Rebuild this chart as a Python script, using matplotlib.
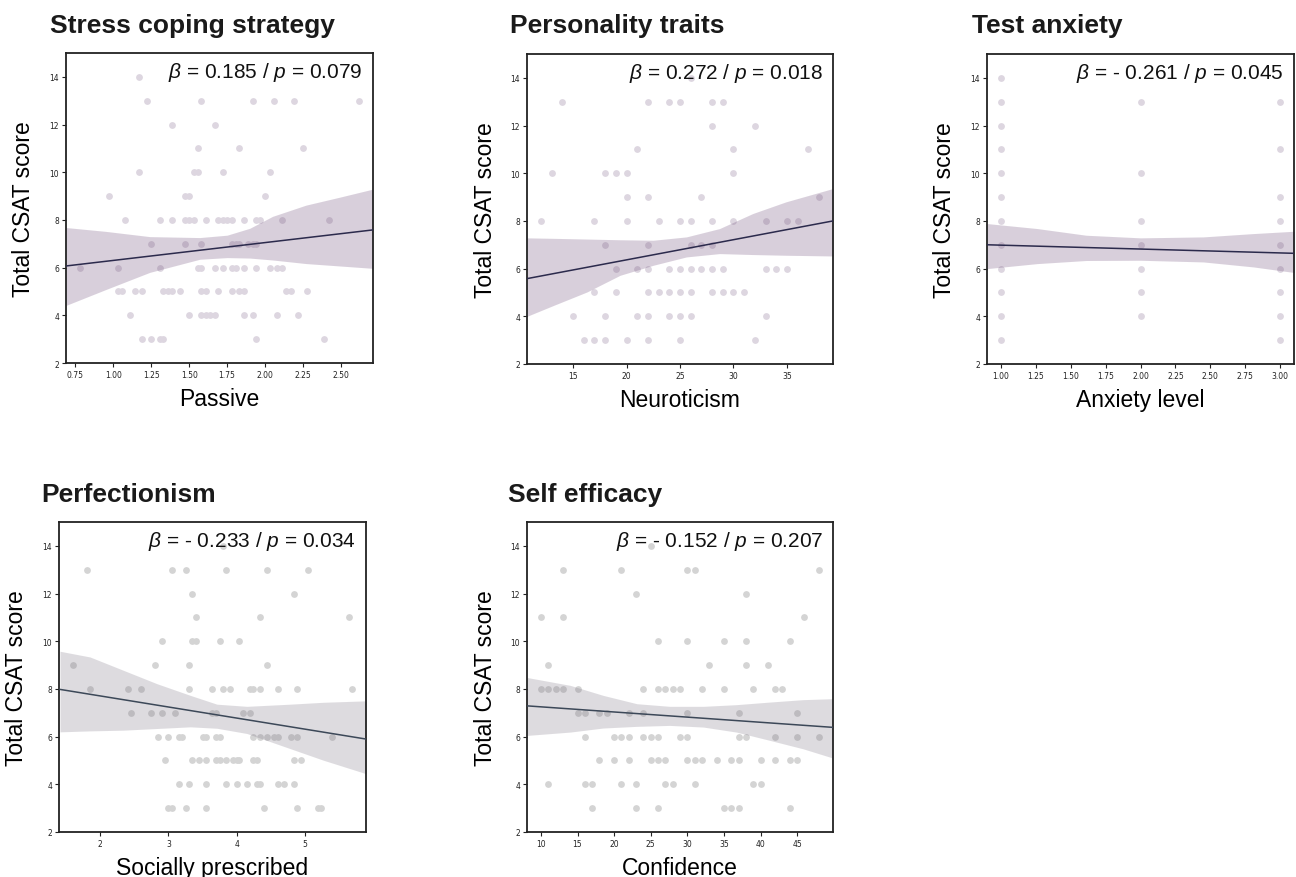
import matplotlib
matplotlib.use("Agg")
import matplotlib.pyplot as plt

plt.rcParams['mathtext.fontset'] = 'custom'
plt.rcParams['mathtext.rm'] = 'Liberation Sans'
plt.rcParams['mathtext.it'] = 'Liberation Sans:italic'

W, H = 1296, 878
TXT = 'Liberation Sans'

# ---- Stress coping strategy: Passive ----
passive_x = [1.17,
             1.22, 1.58, 1.92, 2.06, 2.19, 2.62,
             1.39, 1.67,
             1.56, 1.83, 2.25,
             1.17, 1.53, 1.56, 1.72, 2.03,
             0.97, 1.47, 1.50, 2.00,
             1.08, 1.31, 1.39, 1.47, 1.50, 1.53, 1.61, 1.69, 1.72, 1.75, 1.78, 1.86, 1.94, 1.97, 2.11, 2.42,
             1.25, 1.47, 1.58, 1.78, 1.81, 1.83, 1.89, 1.92, 1.94,
             0.78, 1.03, 1.31, 1.56, 1.58, 1.67, 1.72, 1.78, 1.81, 1.86, 1.94, 2.03, 2.08, 2.11,
             1.03, 1.06, 1.14, 1.19, 1.33, 1.36, 1.39, 1.44, 1.58, 1.61, 1.69, 1.78, 1.83, 1.86, 2.14, 2.17, 2.28,
             1.11, 1.50, 1.58, 1.61, 1.64, 1.67, 1.86, 1.92, 2.08, 2.22,
             1.19, 1.25, 1.31, 1.33, 1.94, 2.39]
passive_y = [14,
             13, 13, 13, 13, 13, 13,
             12, 12,
             11, 11, 11,
             10, 10, 10, 10, 10,
             9, 9, 9, 9,
             8, 8, 8, 8, 8, 8, 8, 8, 8, 8, 8, 8, 8, 8, 8, 8,
             7, 7, 7, 7, 7, 7, 7, 7, 7,
             6, 6, 6, 6, 6, 6, 6, 6, 6, 6, 6, 6, 6, 6,
             5, 5, 5, 5, 5, 5, 5, 5, 5, 5, 5, 5, 5, 5, 5, 5, 5,
             4, 4, 4, 4, 4, 4, 4, 4, 4, 4,
             3, 3, 3, 3, 3, 3]
passive_band_x = [0.69, 0.95, 1.24, 1.57, 1.75, 1.90, 2.05, 2.27, 2.49, 2.71]
passive_band_hi = [7.68, 7.52, 7.30, 7.26, 7.36, 7.65, 8.15, 8.62, 8.95, 9.29]
passive_band_lo = [4.42, 5.08, 5.80, 6.35, 6.42, 6.40, 6.32, 6.17, 6.07, 5.97]
passive_fit = [6.07, 7.58]

# ---- Personality traits: Neuroticism ----
neuro_x = [26,
           14, 22, 24, 25, 28, 29,
           28, 32,
           21, 30, 37,
           13, 18, 19, 20, 30,
           20, 22, 27, 38,
           12, 17, 20, 23, 25, 26, 28, 30, 33, 35, 36,
           18, 22, 26, 27, 28,
           19, 21, 22, 24, 25, 26, 27, 28, 29, 33, 34, 35,
           17, 19, 22, 23, 24, 25, 26, 28, 29, 30, 31,
           15, 18, 21, 22, 24, 25, 26, 33,
           16, 17, 18, 20, 22, 25, 32]
neuro_y = [14,
           13, 13, 13, 13, 13, 13,
           12, 12,
           11, 11, 11,
           10, 10, 10, 10, 10,
           9, 9, 9, 9,
           8, 8, 8, 8, 8, 8, 8, 8, 8, 8, 8,
           7, 7, 7, 7, 7,
           6, 6, 6, 6, 6, 6, 6, 6, 6, 6, 6, 6,
           5, 5, 5, 5, 5, 5, 5, 5, 5, 5, 5,
           4, 4, 4, 4, 4, 4, 4, 4,
           3, 3, 3, 3, 3, 3, 3]
neuro_band_x = [10.7, 13.2, 16.3, 19.4, 22.5, 25.6, 28.7, 31.8, 34.9, 39.3]
neuro_band_hi = [7.29, 7.27, 7.24, 7.21, 7.19, 7.33, 7.68, 8.31, 8.80, 9.36]
neuro_band_lo = [4.00, 4.46, 5.02, 5.72, 6.14, 6.49, 6.63, 6.59, 6.56, 6.53]
neuro_fit = [5.58, 8.00]

# ---- Test anxiety: Anxiety level ----
anx_x = [1, 1, 1, 1, 1, 1, 1, 1, 1, 1, 1, 1,
         2, 2, 2, 2, 2, 2, 2,
         3, 3, 3, 3, 3, 3, 3, 3, 3]
anx_y = [14, 13, 12, 11, 10, 9, 8, 7, 6, 5, 4, 3,
         13, 10, 8, 7, 6, 5, 4,
         13, 11, 9, 8, 7, 6, 5, 4, 3]
anx_band_x = [0.90, 1.26, 1.61, 2.00, 2.45, 2.81, 3.11]
anx_band_hi = [7.89, 7.68, 7.40, 7.29, 7.33, 7.47, 7.57]
anx_band_lo = [6.00, 6.21, 6.34, 6.35, 6.28, 6.07, 5.83]
anx_fit = [7.00, 6.64]

# ---- Perfectionism: Socially prescribed ----
social_x = [3.80,
            1.80, 3.05, 3.25, 3.85, 4.44, 5.04,
            3.35, 4.84,
            3.40, 4.34, 5.64,
            2.90, 3.35, 3.40, 3.75, 4.04,
            1.60, 2.80, 3.30, 4.44,
            1.85, 2.40, 2.60, 3.30, 3.64, 3.80, 3.90, 4.20, 4.24, 4.34, 4.60, 4.89, 5.69,
            2.45, 2.75, 2.90, 3.10, 3.64, 3.70, 4.09, 4.20,
            2.85, 3.00, 3.15, 3.20, 3.50, 3.55, 3.70, 3.75, 4.24, 4.34, 4.44, 4.55, 4.60, 4.80, 4.89, 5.39,
            2.95, 3.35, 3.45, 3.55, 3.70, 3.75, 3.85, 3.95, 4.00, 4.04, 4.24, 4.29, 4.84, 4.94,
            3.15, 3.30, 3.55, 3.85, 4.00, 4.15, 4.29, 4.34, 4.60, 4.69, 4.84,
            3.00, 3.05, 3.25, 3.55, 4.40, 4.89, 5.19, 5.24]
social_y = [14,
            13, 13, 13, 13, 13, 13,
            12, 12,
            11, 11, 11,
            10, 10, 10, 10, 10,
            9, 9, 9, 9,
            8, 8, 8, 8, 8, 8, 8, 8, 8, 8, 8, 8, 8,
            7, 7, 7, 7, 7, 7, 7, 7,
            6, 6, 6, 6, 6, 6, 6, 6, 6, 6, 6, 6, 6, 6, 6, 6,
            5, 5, 5, 5, 5, 5, 5, 5, 5, 5, 5, 5, 5, 5,
            4, 4, 4, 4, 4, 4, 4, 4, 4, 4, 4,
            3, 3, 3, 3, 3, 3, 3, 3]
social_band_x = [1.41, 1.85, 2.34, 2.83, 3.32, 3.71, 4.15, 4.78, 5.27, 5.89]
social_band_hi = [9.58, 9.34, 8.78, 8.22, 7.73, 7.36, 7.27, 7.36, 7.44, 7.50]
social_band_lo = [6.20, 6.24, 6.27, 6.34, 6.41, 6.35, 6.13, 5.50, 5.01, 4.45]
social_fit = [7.98, 5.90]

# ---- Self efficacy: Confidence ----
conf_x = [25,
          13, 21, 30, 31, 48,
          23, 38,
          10, 13, 46,
          26, 30, 35, 38, 44,
          11, 33, 38, 41,
          10, 11, 12, 13, 15, 24, 26, 27, 28, 29, 32, 35, 39, 42, 43,
          15, 16, 18, 19, 22, 24, 30, 37, 45,
          16, 20, 21, 22, 24, 25, 26, 29, 30, 37, 38, 42, 45, 48,
          18, 20, 22, 25, 26, 27, 30, 31, 32, 34, 36, 37, 40, 42, 44, 45,
          11, 16, 17, 21, 23, 27, 28, 31, 39, 40,
          17, 23, 26, 35, 36, 37, 44]
conf_y = [14,
          13, 13, 13, 13, 13,
          12, 12,
          11, 11, 11,
          10, 10, 10, 10, 10,
          9, 9, 9, 9,
          8, 8, 8, 8, 8, 8, 8, 8, 8, 8, 8, 8, 8, 8, 8,
          7, 7, 7, 7, 7, 7, 7, 7, 7,
          6, 6, 6, 6, 6, 6, 6, 6, 6, 6, 6, 6, 6, 6,
          5, 5, 5, 5, 5, 5, 5, 5, 5, 5, 5, 5, 5, 5, 5, 5,
          4, 4, 4, 4, 4, 4, 4, 4, 4, 4,
          3, 3, 3, 3, 3, 3, 3]
conf_band_x = [8.1, 14.0, 18.5, 23.1, 27.6, 32.2, 36.7, 41.3, 45.8, 49.8]
conf_band_hi = [8.48, 8.15, 7.73, 7.38, 7.27, 7.27, 7.34, 7.45, 7.55, 7.59]
conf_band_lo = [6.05, 6.19, 6.36, 6.43, 6.47, 6.40, 6.19, 5.84, 5.49, 5.11]
conf_fit = [7.29, 6.39]

titles = ['Stress coping strategy', 'Personality traits', 'Test anxiety',
          'Perfectionism', 'Self efficacy']
xlabels = ['Passive', 'Neuroticism', 'Anxiety level',
           'Socially prescribed', 'Confidence']
stats = [r'$\beta$ = 0.185 / $p$ = 0.079', r'$\beta$ = 0.272 / $p$ = 0.018',
         r'$\beta$ = - 0.261 / $p$ = 0.045', r'$\beta$ = - 0.233 / $p$ = 0.034',
         r'$\beta$ = - 0.152 / $p$ = 0.207']
xticks = [None, None, [1.0, 1.25, 1.5, 1.75, 2.0, 2.25, 2.5, 2.75, 3.0],
          [2, 3, 4, 5], None]

# purple-ish palette on the top row, grey on the bottom row
top_style = dict(dot='#ddd6e0', band='#674373', line='#2b2a4c')
bot_style = dict(dot='#d4d4d4', band='#7b7383', line='#3c4858')

panels = [
    (passive_x, passive_y, passive_band_x, passive_band_lo, passive_band_hi, passive_fit, top_style),
    (neuro_x, neuro_y, neuro_band_x, neuro_band_lo, neuro_band_hi, neuro_fit, top_style),
    (anx_x, anx_y, anx_band_x, anx_band_lo, anx_band_hi, anx_fit, top_style),
    (social_x, social_y, social_band_x, social_band_lo, social_band_hi, social_fit, bot_style),
    (conf_x, conf_y, conf_band_x, conf_band_lo, conf_band_hi, conf_fit, bot_style),
]

# axes boxes in pixels: left, top, width, height
boxes = [(66, 54, 307, 310), (527, 55, 306, 310), (987, 55, 307, 310),
         (59, 523, 307, 310), (527, 523, 306, 310)]
title_pos = [(50, 33), (510, 33), (972, 33), (41, 502), (508, 502)]

fig = plt.figure(figsize=(W / 100, H / 100), dpi=100)

for i, (xs, ys, bx, blo, bhi, fit, st) in enumerate(panels):
    l, t, w, h = boxes[i]
    ax = fig.add_axes([l / W, 1 - (t + h) / H, w / W, h / H])
    ax.scatter(xs, ys, s=24, color=st['dot'], linewidths=0, zorder=1)
    ax.fill_between(bx, blo, bhi, color=st['band'], alpha=0.25, linewidth=0, zorder=2)
    ax.plot([bx[0], bx[-1]], fit, color=st['line'], lw=1.1, zorder=3)

    span = max(xs) - min(xs)
    ax.set_xlim(min(xs) - 0.05 * span, max(xs) + 0.05 * span)
    ax.set_ylim(2, 15)
    ax.set_yticks([2, 4, 6, 8, 10, 12, 14])
    if xticks[i] is not None:
        ax.set_xticks(xticks[i])
        if i == 2:
            ax.set_xticklabels(['%.2f' % v for v in xticks[i]])

    for sp in ax.spines.values():
        sp.set_linewidth(1.3)
        sp.set_color('#222222')
    ax.tick_params(labelsize=5.5, length=3, width=0.8, pad=2, colors='#222222')

    ax.set_xlabel(xlabels[i], fontsize=16.5, family=TXT)
    ax.xaxis.set_label_coords(0.5, -0.115)
    ax.xaxis.label.set_verticalalignment('center')
    ax.set_ylabel('Total CSAT score', fontsize=16.5, family=TXT)
    ax.yaxis.set_label_coords(-0.137, 0.5)
    ax.yaxis.label.set_verticalalignment('center')

    ax.text(0.967, 0.94, stats[i], transform=ax.transAxes, ha='right', va='center',
            fontsize=15, family=TXT, color='#111111')

    tx, ty = title_pos[i]
    fig.text(tx / W, 1 - ty / H, titles[i], fontsize=19, fontweight='bold',
             family=TXT, color='#1a1a1a', ha='left', va='baseline')

fig.savefig('out.png', dpi=100)
